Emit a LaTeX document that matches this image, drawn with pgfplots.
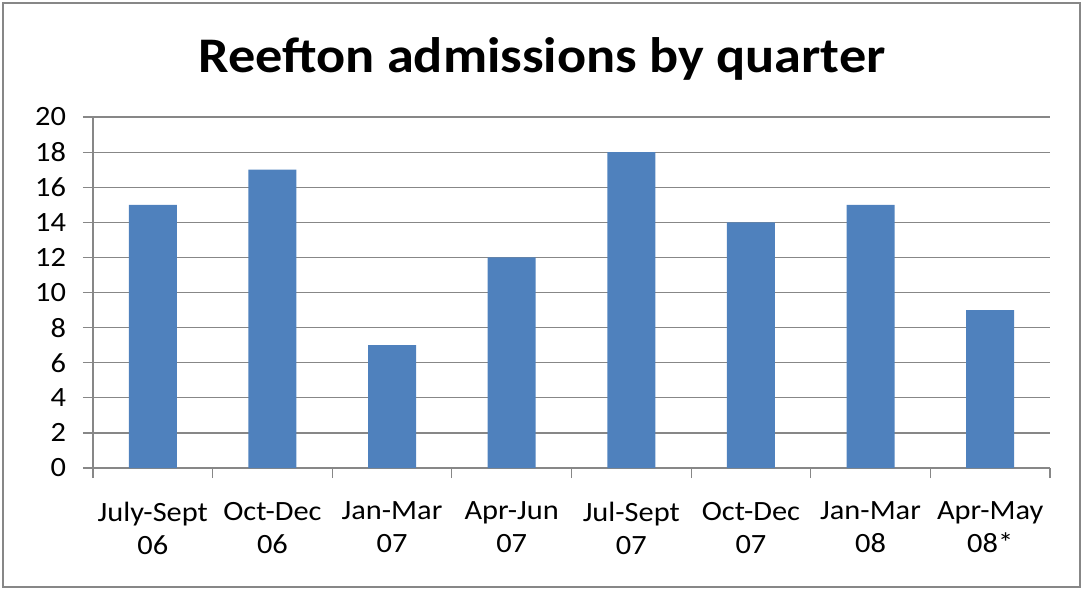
\documentclass[border=0pt]{standalone}
\usepackage{pgfplots}
\pgfplotsset{compat=1.18}
\usepackage{fontspec}
\setmainfont{Carlito}[FakeStretch=1.09]
\definecolor{barblue}{HTML}{4F81BD}
\definecolor{gridgray}{HTML}{878787}

\begin{document}
\begin{tikzpicture}[x=1bp,y=1bp]
  % page and chart frame (1 px of the reference = 0.5 bp)
  \path[use as bounding box] (-46.5,-61) rectangle (495,234);
  \draw[gridgray, line width=1bp] (-45,-59.5) rectangle (493.5,232.5);

  \node[anchor=base, font=\fontsize{25}{30}\selectfont\bfseries]
    at (224.5,198) {Reefton admissions by quarter};

  \begin{axis}[
      at={(0,0)}, anchor=south west,
      scale only axis,
      width  = 478.5bp,
      height = 175.5bp,
      ybar,
      bar width = 24bp,
      xmin = -0.5, xmax = 7.5,
      ymin = 0,    ymax = 20,
      ytick = {0,2,...,20},
      xtick = {0,...,7},
      xticklabels = {July-Sept\\06, Oct-Dec\\06, Jan-Mar\\07, Apr-Jun\\07,
                     Jul-Sept\\07, Oct-Dec\\07, Jan-Mar\\08, Apr-May\\08*},
      minor xtick = {-0.5,0.5,...,7.5},
      major x tick style = {draw=none},
      minor x tick style = {draw=gridgray, line width=0.6bp},
      ytick style = {draw=gridgray, line width=0.6bp},
      major tick length = 5bp,
      minor tick length = 5bp,
      tick align = outside,
      axis x line* = bottom,
      axis y line* = left,
      axis line style = {draw=gridgray, line width=0.6bp},
      ymajorgrids = true,
      grid style = {draw=gridgray, line width=0.6bp},
      /pgf/number format/assume math mode=true,
      ticklabel style = {font=\fontsize{14}{16.5}\selectfont, text=black},
      xticklabel style = {align=center, anchor=north, yshift=-8.5bp},
      yticklabel style = {anchor=east, xshift=-5bp},
    ]
    \addplot[fill=barblue, draw=none] coordinates {
      (0,15) (1,17) (2,7) (3,12) (4,18) (5,14) (6,15) (7,9)
    };
  \end{axis}
\end{tikzpicture}
\end{document}
